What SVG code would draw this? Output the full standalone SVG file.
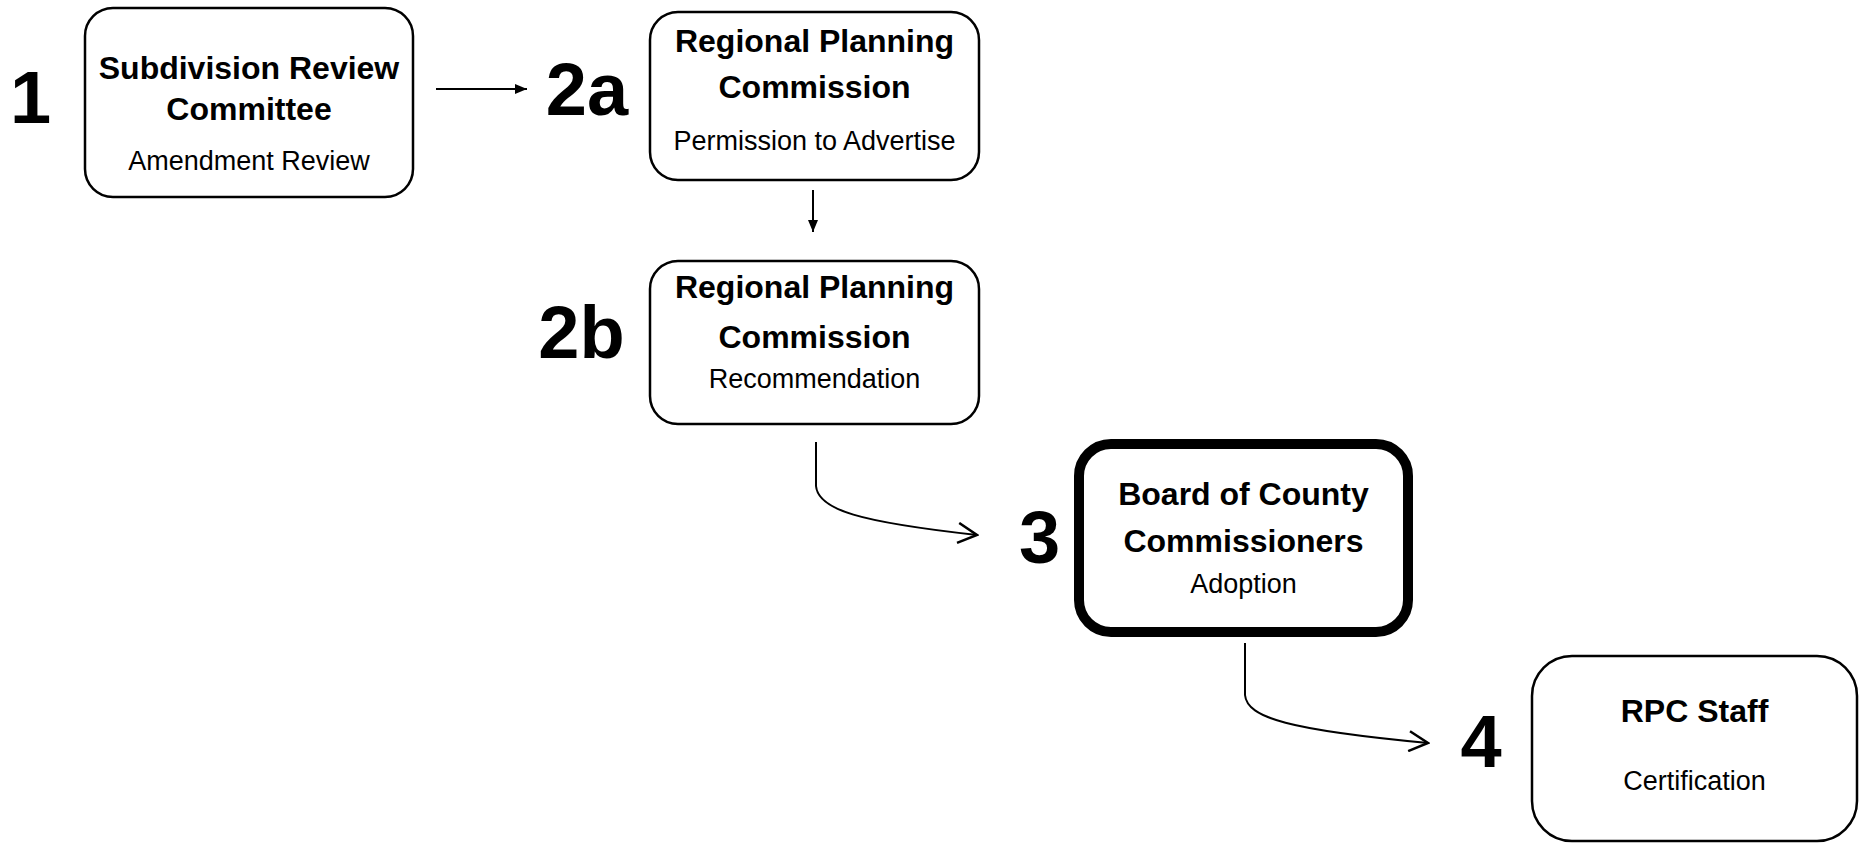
<svg xmlns="http://www.w3.org/2000/svg" width="1859" height="843" viewBox="0 0 1859 843">
  <defs>
    <style>
      .box { fill: #ffffff; stroke: #000000; stroke-width: 2.5; }
      .box-main { fill: #ffffff; stroke: #000000; stroke-width: 10; }
      .title { font-family: "Liberation Sans", Arial, sans-serif; font-weight: bold; font-size: 32px; fill: #000000; text-anchor: middle; }
      .sub { font-family: "Liberation Sans", Arial, sans-serif; font-size: 27px; fill: #000000; text-anchor: middle; }
      .step { font-family: "Liberation Sans", Arial, sans-serif; font-weight: bold; font-size: 74px; fill: #000000; text-anchor: middle; }
      .link { fill: none; stroke: #000000; stroke-width: 2; }
    </style>
    <marker id="head-solid" viewBox="0 0 12 10" refX="12" refY="5" markerWidth="12" markerHeight="10" markerUnits="userSpaceOnUse" orient="auto">
      <path d="M0,0 L12,5 L0,10 Z" fill="#000000"/>
    </marker>
    <marker id="head-open" viewBox="0 0 22 22" refX="20" refY="11" markerWidth="22" markerHeight="22" markerUnits="userSpaceOnUse" orient="auto">
      <path d="M1,1 L20,11 L1,21" fill="none" stroke="#000000" stroke-width="2.5"/>
    </marker>
  </defs>

  <rect width="1859" height="843" fill="#ffffff"/>

  <!-- step 1 -->
  <g id="node-1">
    <text class="step" x="30.5" y="123">1</text>
    <rect class="box" x="85" y="8" width="328" height="189" rx="28" ry="28"/>
    <text class="title" x="249" y="79">Subdivision Review</text>
    <text class="title" x="249" y="120">Committee</text>
    <text class="sub" x="249" y="170">Amendment Review</text>
  </g>

  <!-- step 2a -->
  <g id="node-2a">
    <text class="step" x="587" y="115">2a</text>
    <rect class="box" x="650" y="12" width="329" height="168" rx="28" ry="28"/>
    <text class="title" x="814.5" y="52">Regional Planning</text>
    <text class="title" x="814.5" y="98">Commission</text>
    <text class="sub" x="814.5" y="150">Permission to Advertise</text>
  </g>

  <!-- step 2b -->
  <g id="node-2b">
    <text class="step" x="581.5" y="358">2b</text>
    <rect class="box" x="650" y="261" width="329" height="163" rx="28" ry="28"/>
    <text class="title" x="814.5" y="298">Regional Planning</text>
    <text class="title" x="814.5" y="348">Commission</text>
    <text class="sub" x="814.5" y="388">Recommendation</text>
  </g>

  <!-- step 3 -->
  <g id="node-3">
    <text class="step" x="1039.5" y="563">3</text>
    <rect class="box-main" x="1079" y="444" width="329" height="188" rx="32" ry="32"/>
    <text class="title" x="1243.5" y="505">Board of County</text>
    <text class="title" x="1243.5" y="552">Commissioners</text>
    <text class="sub" x="1243.5" y="593">Adoption</text>
  </g>

  <!-- step 4 -->
  <g id="node-4">
    <text class="step" x="1481" y="767">4</text>
    <rect class="box" x="1532" y="656" width="325" height="185" rx="40" ry="40"/>
    <text class="title" x="1694.5" y="722">RPC Staff</text>
    <text class="sub" x="1694.5" y="790">Certification</text>
  </g>

  <!-- connectors -->
  <g id="connectors">
    <path class="link" d="M436,89 L527,89" marker-end="url(#head-solid)"/>
    <path class="link" d="M813,190 L813,232" marker-end="url(#head-solid)"/>
    <path class="link" d="M816,442 L816,486 C818,510 860,522 977,535" marker-end="url(#head-open)"/>
    <path class="link" d="M1245,643 L1245,695 C1247,718 1290,730 1428,743" marker-end="url(#head-open)"/>
  </g>
</svg>
